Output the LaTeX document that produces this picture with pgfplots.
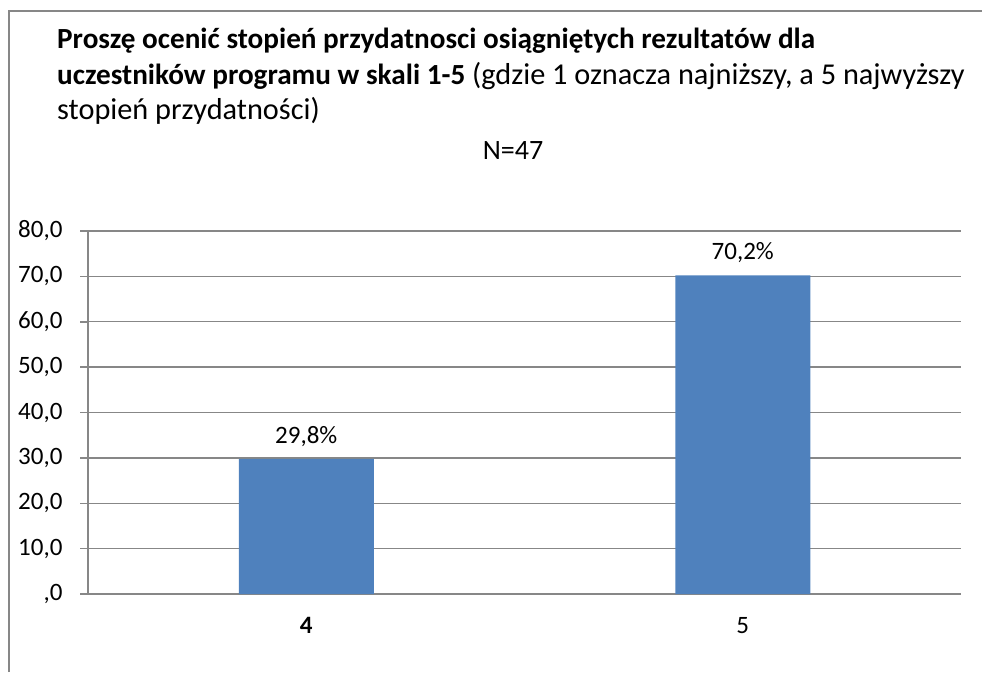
\documentclass[border=0pt]{standalone}
\usepackage{pgfplots}
\pgfplotsset{compat=1.18}
\usepackage{fontspec}
\setmainfont{Carlito}
\definecolor{barblue}{HTML}{4F81BD}
\definecolor{gridgray}{HTML}{878787}
\begin{document}
\begin{tikzpicture}[x=1pt,y=1pt]
\path[use as bounding box] (0,0) rectangle (982,672);
\draw[gridgray, line width=2pt] (9,0) -- (9,661) -- (982,661);
\node[anchor=base west, inner sep=0pt, font=\fontsize{29.2}{34}\selectfont\bfseries] at (57,623) {Proszę ocenić stopień przydatnosci osiągniętych rezultatów dla};
\node[anchor=base west, inner sep=0pt, font=\fontsize{30.3}{34}\selectfont] at (57,587) {{\fontsize{29.2}{34}\selectfont\textbf{uczestników programu w skali 1-5}} (gdzie 1 oznacza najniższy, a 5 najwyższy};
\node[anchor=base west, inner sep=0pt, font=\fontsize{30.3}{34}\selectfont] at (57,552) {stopień przydatności)};
\node[anchor=base, inner sep=0pt, font=\fontsize{28}{34}\selectfont] at (513,512) {N=47};
\begin{axis}[
  at={(88pt,78pt)}, anchor=south west,
  width=873pt, height=363pt, scale only axis,
  xmin=-0.5, xmax=1.5, ymin=0, ymax=80,
  axis x line=bottom, axis y line=left,
  axis line style={-, gridgray, line width=1.5pt},
  ytick={0,10,20,30,40,50,60,70,80},
  yticklabels={{,0},{10,0},{20,0},{30,0},{40,0},{50,0},{60,0},{70,0},{80,0}},
  xtick={0,1}, xticklabels={\textbf{4},5},
  minor xtick={-0.5,0.5,1.5},
  tick align=outside,
  major tick length=8pt, minor tick length=8pt,
  xtick style={draw=none},
  minor tick style={gridgray, line width=1.5pt},
  ytick style={gridgray, line width=1.5pt},
  ymajorgrids, grid style={gridgray, line width=1.3pt},
  tick label style={font=\fontsize{25}{28}\selectfont},
  yticklabel style={xshift=-14pt},
  xticklabel style={yshift=-12pt},
  ybar, bar width=135pt,
  nodes near coords={\pgfmathprintnumber[fixed,fixed zerofill,precision=1,use comma,assume math mode=true]{\pgfplotspointmeta}\%},
  nodes near coords style={font=\fontsize{25}{28}\selectfont, black, yshift=9pt},
  clip=false,
]
\addplot[fill=barblue, draw=none] coordinates {(0,29.8) (1,70.2)};
\end{axis}
\end{tikzpicture}
\end{document}
